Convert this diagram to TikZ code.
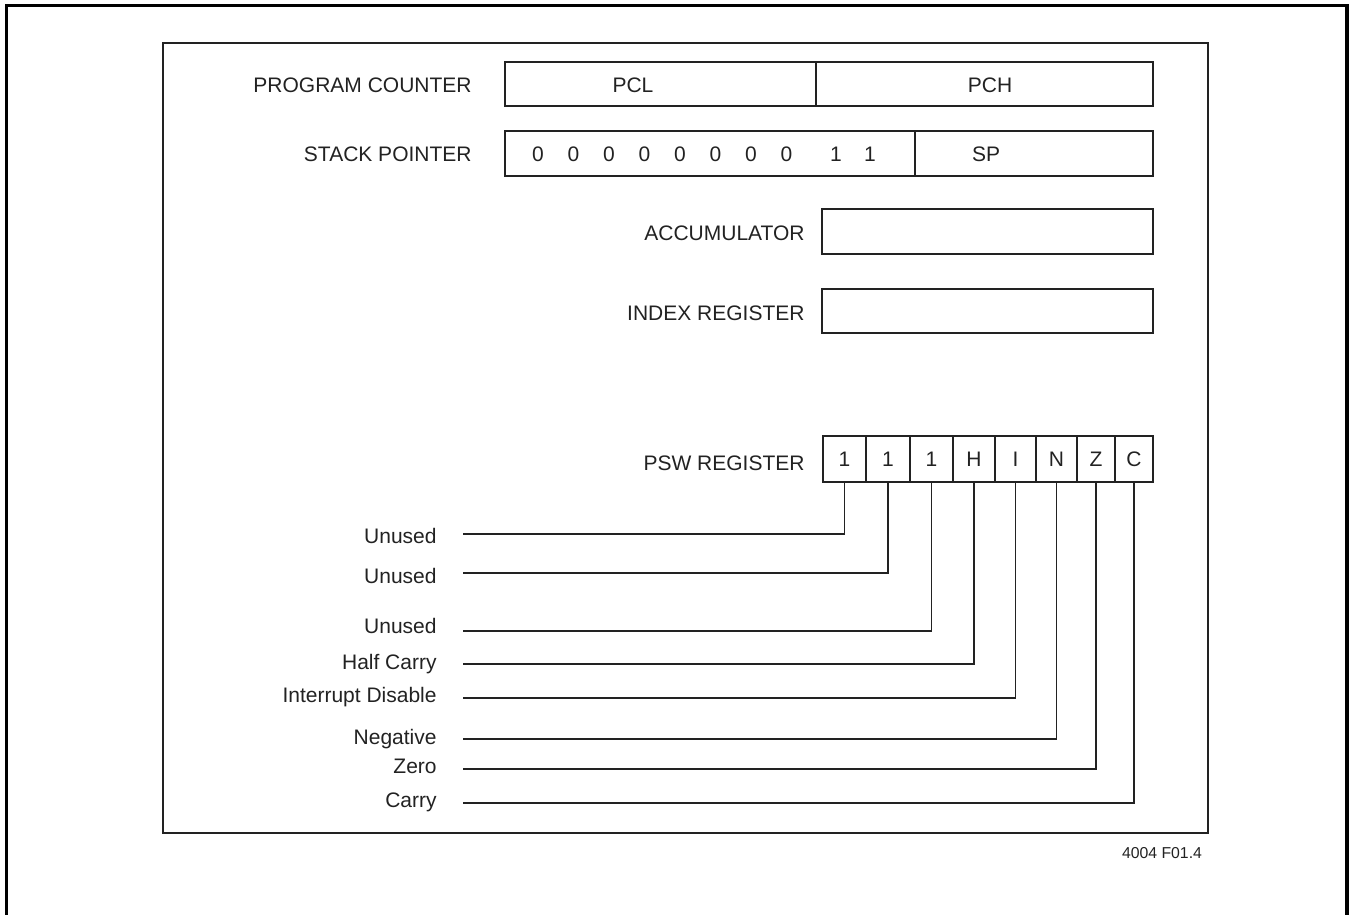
\documentclass[tikz,border=0pt]{standalone}
\usepackage{fontspec}
\setmainfont{Liberation Sans}
\definecolor{ink}{HTML}{222222}
\begin{document}
\begin{tikzpicture}[x=0.5pt,y=-0.5pt,
  txt/.style={inner sep=0pt, text height=7.6pt, text depth=0pt, font=\fontsize{10.5}{12}\selectfont, text=ink},
  regbox/.style={draw=ink, line width=0.9pt, inner sep=0pt},
  cell/.style={regbox, txt, inner sep=0pt, minimum height=23pt},
  conn/.style={draw=ink, line width=0.8pt}]
\useasboundingbox (0,0) rectangle (1351,915);
% outer (open) frame
\draw[line width=1.6pt, black] (6.5,915) -- (6.5,5.5) -- (1347,5.5) -- (1347,915);
% inner frame
\draw[draw=ink, line width=1.1pt] (163,43) rectangle (1208,833);

% program counter
\node[txt, anchor=east] (lpc) at (472,85) {PROGRAM COUNTER};
\node[regbox, minimum width=155.5pt, minimum height=22pt] (pcl) at (660.5,84) {};
\node[regbox, minimum width=168.5pt, minimum height=22pt] (pch) at (984.5,84) {};
\node[txt] (tpcl) at (633,85) {PCL};
\node[txt] (tpch) at (990,85) {PCH};

% stack pointer
\node[txt, anchor=east] (lsp) at (472,154) {STACK POINTER};
\node[regbox, minimum width=205pt, minimum height=22.5pt] (spfix) at (710,153.5) {};
\node[regbox, minimum width=119pt, minimum height=22.5pt] (sp) at (1034,153.5) {};
\foreach \i in {0,...,7} { \node[txt] (z\i) at ({538+35.5*\i},154) {0}; }
\node[txt] (o1) at (836,154) {1};
\node[txt] (o2) at (870,154) {1};
\node[txt] (tsp) at (986,154) {SP};

% accumulator
\node[txt, anchor=east] (lacc) at (805,233) {ACCUMULATOR};
\node[regbox, minimum width=165.5pt, minimum height=22.5pt] (acc) at (987.5,231.5) {};

% index register
\node[txt, anchor=east] (lidx) at (805,313) {INDEX REGISTER};
\node[regbox, minimum width=165.5pt, minimum height=22pt] (idx) at (987.5,311) {};

% PSW register
\node[txt, anchor=east] (lpsw) at (805,463) {PSW REGISTER};
\foreach \l/\r/\t [count=\i] in {823/866/1, 866/910/1, 910/953/1, 953/995/H, 995/1036/I, 1036/1077/N, 1077/1115/Z, 1115/1153/C} {
  \node[cell, minimum width={(\r-\l)*0.5pt}] (b\i) at ({(\l+\r)/2},459) {\t};
}

% flag descriptions
\foreach \ly/\yy/\t [count=\i] in {536/534/Unused, 576/573/Unused, 626/631/Unused, 662/664/Half Carry, 695/698/Interrupt Disable, 737/739/Negative, 766/769/Zero, 800/803/Carry} {
  \node[txt, anchor=east] (f\i) at (437,\ly) {\t};
  \coordinate (e\i) at (463,\yy);
  \draw[conn] (b\i.south) |- (e\i);
}

% figure id
\node[inner sep=0pt, text height=5.7pt, text depth=0pt, font=\fontsize{7.9}{9}\selectfont, text=ink] (fig) at (1162,853) {4004 F01.4};
\end{tikzpicture}
\end{document}
